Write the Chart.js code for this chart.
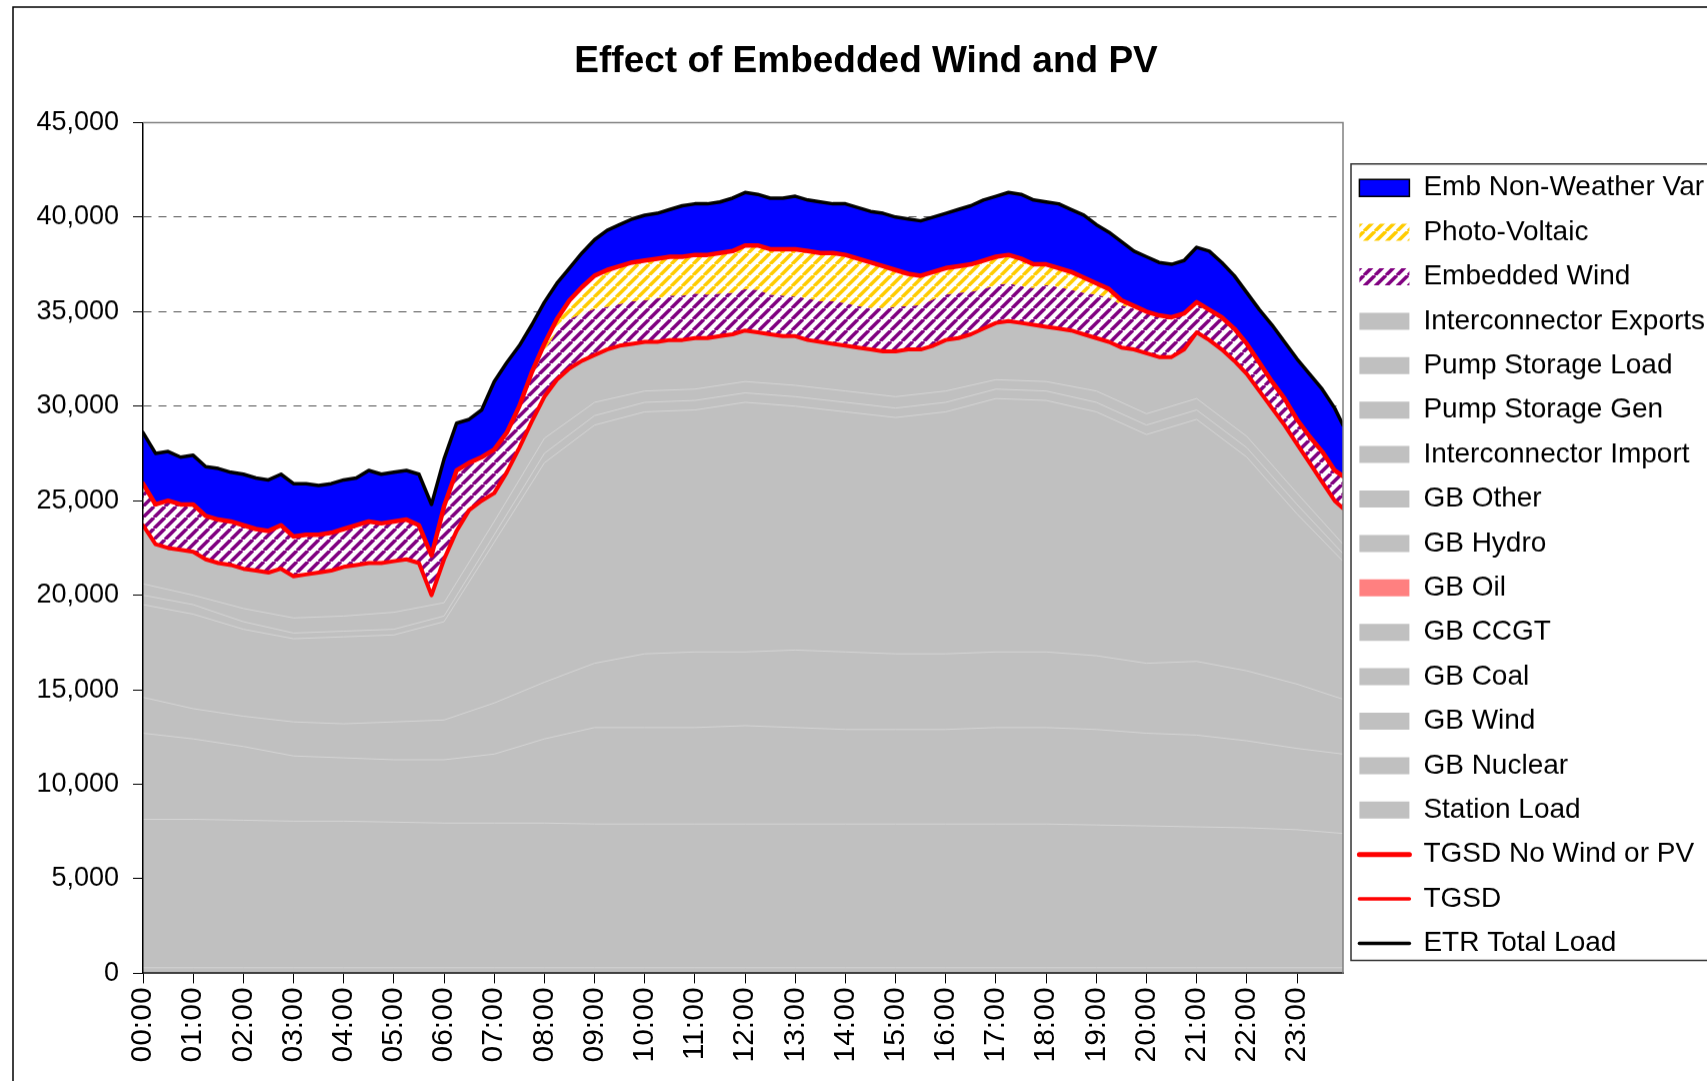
<!DOCTYPE html>
<html>
<head>
<meta charset="utf-8">
<title>Effect of Embedded Wind and PV</title>
<script src="https://cdn.jsdelivr.net/npm/chart.js@4.4.0/dist/chart.umd.min.js"></script>
<style>
  html, body { margin: 0; padding: 0; background: #fff; overflow: hidden; }
  #wrap { position: relative; width: 1707px; height: 1083px; overflow: hidden; }
  canvas { display: block; }
</style>
</head>
<body>
<div id="wrap"><canvas id="chart" width="1719" height="1083"></canvas></div>
<script>
// readings taken every 15 minutes, last one at 23:55
const quarterHours = [];
for (let q = 0; q < 96; q++) quarterHours.push(q / 4);
quarterHours.push(23 + 55 / 60);

// the thin generation layer lines are read once an hour
const hourTimes = [];
for (let h = 0; h < 24; h++) hourTimes.push(h);
hourTimes.push(23 + 55 / 60);

const hourLabels = ["00:00", "01:00", "02:00", "03:00", "04:00", "05:00", "06:00", "07:00",
  "08:00", "09:00", "10:00", "11:00", "12:00", "13:00", "14:00", "15:00",
  "16:00", "17:00", "18:00", "19:00", "20:00", "21:00", "22:00", "23:00"];

// MW, one row per hour (00, 15, 30, 45 min)
const etrTotalLoad = [
  28600, 27500, 27600, 27300,
  27400, 26800, 26700, 26500,
  26400, 26200, 26100, 26400,
  25900, 25900, 25800, 25900,
  26100, 26200, 26600, 26400,
  26500, 26600, 26400, 24800,
  27200, 29100, 29300, 29800,
  31300, 32300, 33200, 34300,
  35500, 36500, 37300, 38100,
  38800, 39300, 39600, 39900,
  40100, 40200, 40400, 40600,
  40700, 40700, 40800, 41000,
  41300, 41200, 41000, 41000,
  41100, 40900, 40800, 40700,
  40700, 40500, 40300, 40200,
  40000, 39900, 39800, 40000,
  40200, 40400, 40600, 40900,
  41100, 41300, 41200, 40900,
  40800, 40700, 40400, 40100,
  39600, 39200, 38700, 38200,
  37900, 37600, 37500, 37700,
  38400, 38200, 37600, 36900,
  36000, 35100, 34300, 33400,
  32500, 31700, 30900, 29900,
  29000
];

const tgsdNoWindPv = [
  25900, 24800, 25000, 24800,
  24800, 24200, 24000, 23900,
  23700, 23500, 23400, 23700,
  23100, 23200, 23200, 23300,
  23500, 23700, 23900, 23800,
  23900, 24000, 23700, 22100,
  24700, 26600, 27000, 27300,
  27700, 28600, 30000, 31800,
  33300, 34600, 35600, 36300,
  36900, 37200, 37400, 37600,
  37700, 37800, 37900, 37900,
  38000, 38000, 38100, 38200,
  38500, 38500, 38300, 38300,
  38300, 38200, 38100, 38100,
  38000, 37800, 37600, 37400,
  37200, 37000, 36900, 37100,
  37300, 37400, 37500, 37700,
  37900, 38000, 37800, 37500,
  37500, 37300, 37100, 36800,
  36500, 36200, 35600, 35300,
  35000, 34800, 34700, 34900,
  35500, 35100, 34700, 34100,
  33300, 32300, 31300, 30400,
  29300, 28400, 27600, 26600,
  26300
];

const tgsd = [
  23700, 22700, 22500, 22400,
  22300, 21900, 21700, 21600,
  21400, 21300, 21200, 21400,
  21000, 21100, 21200, 21300,
  21500, 21600, 21700, 21700,
  21800, 21900, 21700, 20000,
  21900, 23400, 24500, 25000,
  25400, 26500, 27800, 29200,
  30500, 31400, 32000, 32400,
  32700, 33000, 33200, 33300,
  33400, 33400, 33500, 33500,
  33600, 33600, 33700, 33800,
  34000, 33900, 33800, 33700,
  33700, 33500, 33400, 33300,
  33200, 33100, 33000, 32900,
  32900, 33000, 33000, 33200,
  33500, 33600, 33800, 34100,
  34400, 34500, 34400, 34300,
  34200, 34100, 34000, 33800,
  33600, 33400, 33100, 33000,
  32800, 32600, 32600, 33000,
  33900, 33500, 33000, 32400,
  31700, 30800, 29900, 29000,
  28000, 27000, 26000, 25000,
  24600
];

const pvOutput = [
  0, 0, 0, 0,
  0, 0, 0, 0,
  0, 0, 0, 0,
  0, 0, 0, 0,
  0, 0, 0, 0,
  0, 0, 0, 0,
  0, 0, 0, 10,
  30, 60, 120, 200,
  350, 650, 1000, 1400,
  1750, 1950, 2000, 2050,
  2100, 2100, 2050, 2050,
  2050, 2100, 2150, 2200,
  2300, 2350, 2400, 2450,
  2500, 2500, 2550, 2550,
  2550, 2500, 2400, 2200,
  1950, 1700, 1550, 1450,
  1400, 1400, 1450, 1500,
  1500, 1500, 1450, 1250,
  1100, 1000, 950, 800,
  600, 450, 250, 120,
  40, 0, 0, 0,
  0, 0, 0, 0,
  0, 0, 0, 0,
  0, 0, 0, 0,
  0
];

// tops of the grey generation layers (cumulative MW), hourly
const stationLoadTop = [300, 300, 300, 300, 300, 300, 300, 300, 300, 300, 300, 300, 300,
  300, 300, 300, 300, 300, 300, 300, 300, 300, 300, 300, 300];
const nuclearTop = [8150, 8150, 8100, 8050, 8050, 8000, 7950, 7950, 7950, 7900, 7900, 7900, 7900,
  7900, 7900, 7900, 7900, 7900, 7900, 7850, 7800, 7750, 7700, 7600, 7400];
const gbWindTop = [12700, 12400, 12000, 11500, 11400, 11300, 11300, 11600, 12400, 13000, 13000, 13000, 13100,
  13000, 12900, 12900, 12900, 13000, 13000, 12900, 12700, 12600, 12300, 11900, 11600];
const coalTop = [14600, 14000, 13600, 13300, 13200, 13300, 13400, 14300, 15400, 16400, 16900, 17000, 17000,
  17100, 17000, 16900, 16900, 17000, 17000, 16800, 16400, 16500, 16000, 15300, 14500];
const ccgtTop = [19500, 19000, 18200, 17700, 17800, 17900, 18600, 22800, 27000, 29000, 29700, 29800, 30200,
  30000, 29700, 29400, 29700, 30400, 30300, 29700, 28500, 29300, 27300, 24300, 21800];
const hydroTop = [20000, 19500, 18600, 18000, 18100, 18200, 18900, 23200, 27500, 29500, 30200, 30300, 30700,
  30500, 30200, 29900, 30200, 30900, 30800, 30200, 29000, 29800, 27800, 24800, 22200];
const otherTop = [20600, 20000, 19300, 18800, 18900, 19100, 19600, 23900, 28300, 30200, 30800, 30900, 31300,
  31100, 30800, 30500, 30800, 31400, 31300, 30800, 29600, 30400, 28400, 25400, 22700];

// top of the embedded wind band = TGSD no wind/PV minus the PV slice
const embWindTop = tgsdNoWindPv.map((v, i) => v - pvOutput[i]);

Chart.defaults.font.family = '"Liberation Sans", Arial, sans-serif';
Chart.defaults.color = '#000';

const canvas = document.getElementById("chart");
const ctx = canvas.getContext("2d");

function hatch(color) {
    const s = 11;
    const tile = document.createElement("canvas");
    tile.width = s;
    tile.height = s;
    const g = tile.getContext("2d");
    g.fillStyle = "#fff";
    g.fillRect(0, 0, s, s);
    g.strokeStyle = color;
    g.lineWidth = 3.5;
    g.beginPath();
    for (const k of [-s, 0, s]) {
        g.moveTo(k, s);
        g.lineTo(k + s, 0);
    }
    g.stroke();
    return ctx.createPattern(tile, "repeat");
}

const GREY = "#c0c0c0";
const LAYER_LINE = "#d5d5d5";
const pvHatch = hatch("#ffcc00");
const windHatch = hatch("#800080");

const pts = (times, vals) => vals.map((v, i) => ({ x: times[i], y: v }));

const layerLine = (label, vals) => ({
    label: label,
    data: pts(hourTimes, vals),
    borderColor: LAYER_LINE,
    borderWidth: 1,
    fill: false,
    order: 4,
});

const hidden = (label, times, vals) => ({
    label: label,
    data: pts(times, vals),
    borderWidth: 0,
    fill: false,
    order: 5,
});

const datasets = [
    { label: "Emb Non-Weather Var", data: pts(quarterHours, etrTotalLoad), fill: 15, backgroundColor: "#0000ff", borderWidth: 0, order: 5 },
    { label: "Photo-Voltaic", data: pts(quarterHours, tgsdNoWindPv), fill: 2, backgroundColor: pvHatch, borderWidth: 0, order: 5 },
    { label: "Embedded Wind", data: pts(quarterHours, embWindTop), fill: 16, backgroundColor: windHatch, borderWidth: 0, order: 5 },
    { label: "Interconnector Exports", data: pts(quarterHours, tgsd), fill: "origin", backgroundColor: GREY, borderWidth: 0, order: 5 },
    hidden("Pump Storage Load", quarterHours, tgsd),
    hidden("Pump Storage Gen", quarterHours, tgsd),
    hidden("Interconnector Import", quarterHours, tgsd),
    layerLine("GB Other", otherTop),
    layerLine("GB Hydro", hydroTop),
    hidden("GB Oil", hourTimes, ccgtTop),
    layerLine("GB CCGT", ccgtTop),
    layerLine("GB Coal", coalTop),
    layerLine("GB Wind", gbWindTop),
    layerLine("GB Nuclear", nuclearTop),
    layerLine("Station Load", stationLoadTop),
    { label: "TGSD No Wind or PV", data: pts(quarterHours, tgsdNoWindPv), borderColor: "#ff0000", borderWidth: 4.5, fill: false, order: 2 },
    { label: "TGSD", data: pts(quarterHours, tgsd), borderColor: "#ff0000", borderWidth: 4, fill: false, order: 2 },
    { label: "ETR Total Load", data: pts(quarterHours, etrTotalLoad), borderColor: "#000000", borderWidth: 3.5, fill: false, order: 1 },
];

// legend swatches, same order as the datasets
const keys = [
    { fill: "#0000ff", stroke: "#000", width: 1.5 },
    { fill: pvHatch },
    { fill: windHatch },
    { fill: GREY }, { fill: GREY }, { fill: GREY }, { fill: GREY },
    { fill: GREY }, { fill: GREY },
    { fill: "#ff8080" },
    { fill: GREY }, { fill: GREY }, { fill: GREY }, { fill: GREY }, { fill: GREY },
    { line: true, stroke: "#ff0000", width: 5 },
    { line: true, stroke: "#ff0000", width: 3.5 },
    { line: true, stroke: "#000000", width: 3.5 },
];

const frames = {
    id: "frames",
    afterDraw(chart) {
        const c = chart.ctx;
        const a = chart.chartArea;
        c.save();
        // outer chart border (picture is cropped right and bottom)
        c.strokeStyle = "#000";
        c.lineWidth = 1.5;
        c.beginPath();
        c.moveTo(13, chart.height + 5);
        c.lineTo(13, 7);
        c.lineTo(chart.width + 5, 7);
        c.stroke();
        // plot area border
        c.strokeStyle = "#808080";
        c.lineWidth = 1.5;
        c.beginPath();
        c.moveTo(a.left, a.top);
        c.lineTo(a.right, a.top);
        c.lineTo(a.right, a.bottom);
        c.stroke();
        // legend box
        const hb = chart.legend.legendHitBoxes;
        const last = hb[hb.length - 1];
        const top = hb[0].top - 10;
        const bottom = last.top + last.height + 3;
        c.strokeStyle = "#333";
        c.lineWidth = 1.5;
        c.beginPath();
        c.moveTo(chart.width + 5, top);
        c.lineTo(a.right + 8, top);
        c.lineTo(a.right + 8, bottom);
        c.lineTo(chart.width + 5, bottom);
        c.stroke();
        c.restore();
    },
};

const chart = new Chart(canvas, {
    type: "line",
    data: { datasets: datasets },
    plugins: [frames],
    options: {
        responsive: false,
        animation: false,
        events: [],
        layout: { padding: { left: 17, right: 0, top: 0, bottom: 15 } },
        elements: {
            point: { radius: 0, hitRadius: 0 },
            line: { tension: 0, borderJoinStyle: "round", borderCapStyle: "round" },
        },
        plugins: {
            filler: { drawTime: "beforeDatasetsDraw", propagate: false },
            tooltip: { enabled: false },
            title: {
                display: true,
                text: "Effect of Embedded Wind and PV",
                color: "#000",
                font: { size: 37, weight: "bold" },
                padding: { top: 40, bottom: 38 },
            },
            legend: {
                position: "right",
                align: "start",
                fullSize: true,
                // empty title only pushes the entries down to where the original has them
                title: { display: true, text: " ", font: { size: 10 }, padding: { top: 145.3, bottom: 0 } },
                labels: {
                    usePointStyle: true,
                    pointStyleWidth: 50,
                    boxHeight: 17,
                    padding: 16.4,
                    color: "#000",
                    font: { size: 28 },
                    generateLabels: (ch) => ch.data.datasets.map((ds, i) => ({
                        text: ds.label,
                        datasetIndex: i,
                        hidden: false,
                        fillStyle: keys[i].fill || "rgba(0,0,0,0)",
                        strokeStyle: keys[i].stroke || "rgba(0,0,0,0)",
                        lineWidth: keys[i].width || 0,
                        lineCap: "round",
                        pointStyle: keys[i].line ? "line" : "rect",
                        fontColor: "#000",
                    })),
                },
            },
        },
        scales: {
            x: {
                type: "linear",
                min: 0,
                max: 23 + 55 / 60,
                ticks: {
                    stepSize: 1,
                    includeBounds: false,
                    autoSkip: false,
                    maxRotation: 90,
                    minRotation: 90,
                    padding: 4,
                    color: "#000",
                    font: { size: 30 },
                    callback: (v) => hourLabels[v],
                },
                grid: { drawOnChartArea: false, tickLength: 10, tickColor: "#000", color: "#000" },
                border: { color: "#404040", width: 2, z: 1 },
            },
            y: {
                min: 0,
                max: 45000,
                afterFit: (scale) => { scale.width = 126; },
                ticks: {
                    stepSize: 5000,
                    padding: 14,
                    color: "#000",
                    font: { size: 27 },
                    callback: (v) => v.toLocaleString("en-US"),
                },
                grid: { color: "#555", lineWidth: 1, tickColor: "#000", tickLength: 10 },
                border: { color: "#000", width: 1.5, dash: [8, 7], z: 1 },
            },
        },
    },
});

// keep the plot's right edge where the original has it
const shift = 1343 - chart.chartArea.right;
if (Math.abs(shift) > 0.5) chart.resize(canvas.width + shift, 1083);
</script>
</body>
</html>
